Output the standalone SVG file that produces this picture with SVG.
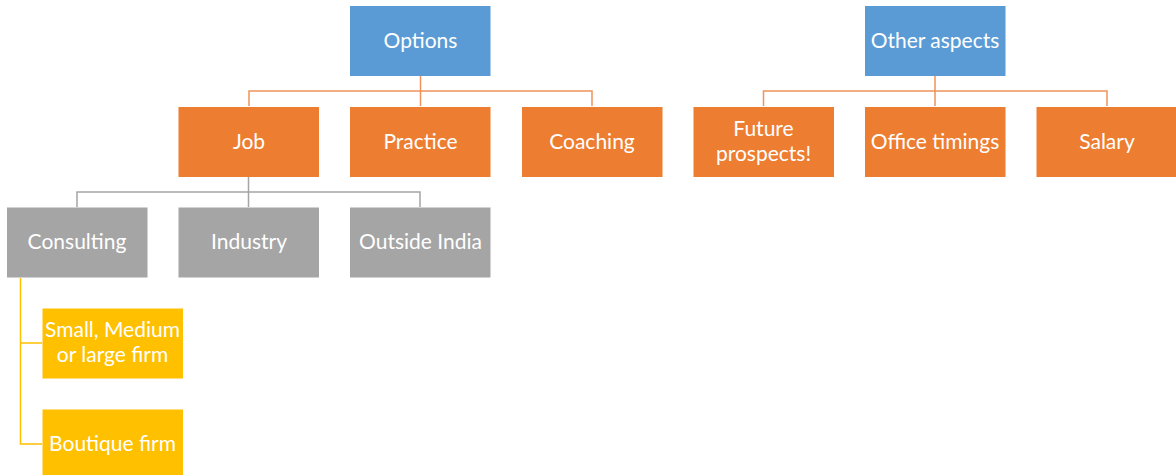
<svg xmlns="http://www.w3.org/2000/svg" width="1176" height="475" viewBox="0 0 1176 475">
<style>
text{font-family:Lato,"Open Sans","Liberation Sans",sans-serif;font-size:21px;fill:#fff;text-anchor:middle}
.blue{fill:#5B9BD5}.orange{fill:#ED7D31}.gray{fill:#A5A5A5}.yellow{fill:#FFC000}
.co{stroke:#F0935A;stroke-width:1.5;fill:none}
.cg{stroke:#A5A5A5;stroke-width:1.5;fill:none}
.cy{stroke:#FFC000;stroke-width:1.5;fill:none}
</style>
<rect width="1176" height="475" fill="#fff"/>
<g id="connectors">
<path class="co" d="M420.5 76V106M249 106V91H592V106"/>
<path class="co" d="M935 76V106M763.5 106V91H1107V106"/>
<path class="cg" d="M248.5 177V207M77 207V192H420V207"/>
<path class="cy" d="M20.5 278V444H42M20.5 343H42"/>
</g>
<g id="options"><rect class="blue" x="350" y="6" width="140.5" height="70"/><text x="420.5" y="48">Options</text></g>
<g id="other-aspects"><rect class="blue" x="865" y="6" width="140.5" height="70"/><text x="935" y="48">Other aspects</text></g>
<g id="job"><rect class="orange" x="178.5" y="107" width="140.5" height="70"/><text x="249" y="149">Job</text></g>
<g id="practice"><rect class="orange" x="350" y="107" width="140.5" height="70"/><text x="420.5" y="149">Practice</text></g>
<g id="coaching"><rect class="orange" x="522" y="107" width="140.5" height="70"/><text x="592" y="149">Coaching</text></g>
<g id="future-prospects"><rect class="orange" x="693.5" y="107" width="140.5" height="70"/><text x="763.5" y="136">Future</text><text x="763.5" y="161">prospects!</text></g>
<g id="office-timings"><rect class="orange" x="865" y="107" width="140.5" height="70"/><text x="935" y="149">Office timings</text></g>
<g id="salary"><rect class="orange" x="1036.5" y="107" width="140.5" height="70"/><text x="1107" y="149">Salary</text></g>
<g id="consulting"><rect class="gray" x="7" y="207.5" width="140.5" height="70"/><text x="77" y="249">Consulting</text></g>
<g id="industry"><rect class="gray" x="178.5" y="207.5" width="140.5" height="70"/><text x="249" y="249">Industry</text></g>
<g id="outside-india"><rect class="gray" x="350" y="207.5" width="140.5" height="70"/><text x="420.5" y="249">Outside India</text></g>
<g id="small-medium"><rect class="yellow" x="42.5" y="308.5" width="140.5" height="70"/><text x="112.5" y="337">Small, Medium</text><text x="112.5" y="362">or large firm</text></g>
<g id="boutique"><rect class="yellow" x="42.5" y="409.5" width="140.5" height="70"/><text x="112.5" y="451">Boutique firm</text></g>
</svg>
